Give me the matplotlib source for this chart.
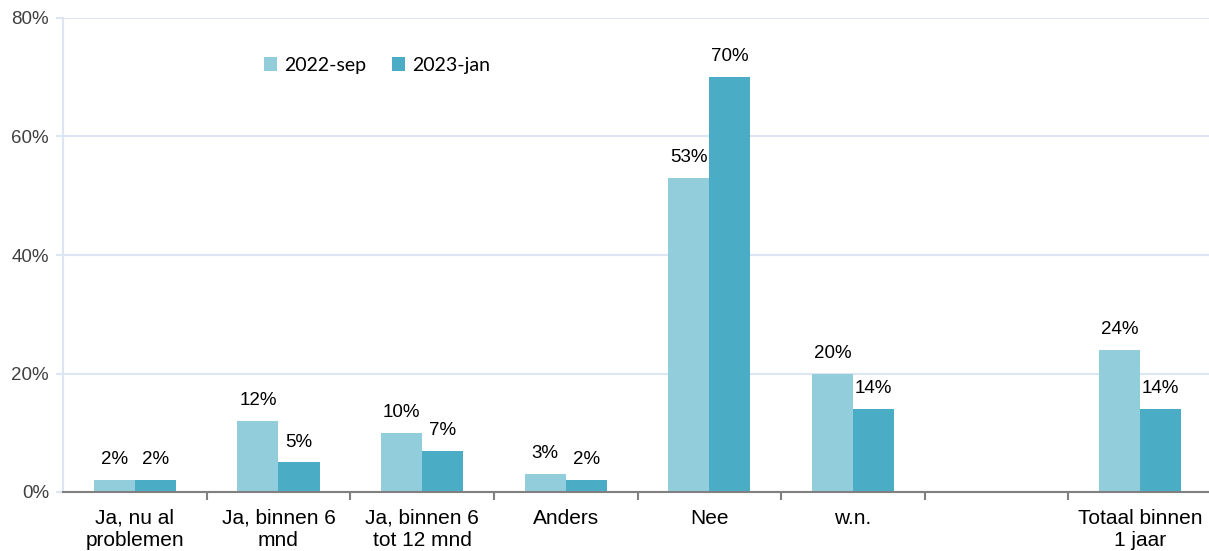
import numpy as np
import matplotlib.pyplot as plt

categories = ["Ja, nu al\nproblemen", "Ja, binnen 6\nmnd", "Ja, binnen 6\ntot 12 mnd",
              "Anders", "Nee", "w.n.", "", "Totaal binnen\n1 jaar"]
sep_2022 = [2, 12, 10, 3, 53, 20, None, 24]
jan_2023 = [2, 5, 7, 2, 70, 14, None, 14]
series_names = ["2022-sep", "2023-jan"]
c_light = "#92cddc"
c_dark = "#4bacc6"

plt.rcParams['font.family'] = ['Liberation Sans', 'DejaVu Sans']

fig = plt.figure(figsize=(12.09, 5.51), dpi=100)
ax = fig.add_axes([63 / 1209, (551 - 492) / 551, (1209 - 63) / 1209, (492 - 18) / 551])

x = np.arange(len(categories))
w = 0.286
for vals, off, col, name in [(sep_2022, -w / 2, c_light, series_names[0]),
                             (jan_2023, w / 2, c_dark, series_names[1])]:
    xs = [xi + off for xi, v in zip(x, vals) if v is not None]
    vs = [v for v in vals if v is not None]
    ax.bar(xs, vs, width=w, color=col, label=name, zorder=3)
    for xi, v in zip(xs, vs):
        ax.text(xi, v + 2.0, f"{v}%", ha='center', va='bottom', fontsize=13.5, color='black')

cat_px = 143.6
ax.set_xlim(-0.5, 7.5 - 3 / cat_px)
ax.set_ylim(0, 80)
ax.set_yticks([0, 20, 40, 60, 80])
ax.set_yticklabels([f"{t}%" for t in [0, 20, 40, 60, 80]], fontsize=13.5, color='#404040')
ax.grid(axis='y', color='#dce6f2', linewidth=1.5, zorder=0)
ax.tick_params(axis='y', length=5, color='#dce6f2', width=1.5, pad=5)

ax.set_xticks(x)
ax.set_xticklabels(categories, fontsize=15, color='black', linespacing=1.2)
ax.tick_params(axis='x', length=0, pad=12)
ax.set_xticks(np.arange(0.5, 7.5, 1), minor=True)
ax.tick_params(axis='x', which='minor', length=6, color='#808080', width=1.5)

for s in ['top', 'right']:
    ax.spines[s].set_visible(False)
ax.spines['left'].set_color('#dce6f2')
ax.spines['left'].set_linewidth(1.5)
ax.spines['bottom'].set_color('#808080')
ax.spines['bottom'].set_linewidth(1.5)
ax.spines['bottom'].set_zorder(4)

ax.legend(loc='upper left', bbox_to_anchor=(0.16, 0.955), ncol=2, frameon=False,
          prop={'family': ['Lato', 'DejaVu Sans'], 'size': 14},
          handlelength=0.7, handleheight=0.7, columnspacing=1.3, handletextpad=0.35)

fig.savefig("out.png", dpi=100)
